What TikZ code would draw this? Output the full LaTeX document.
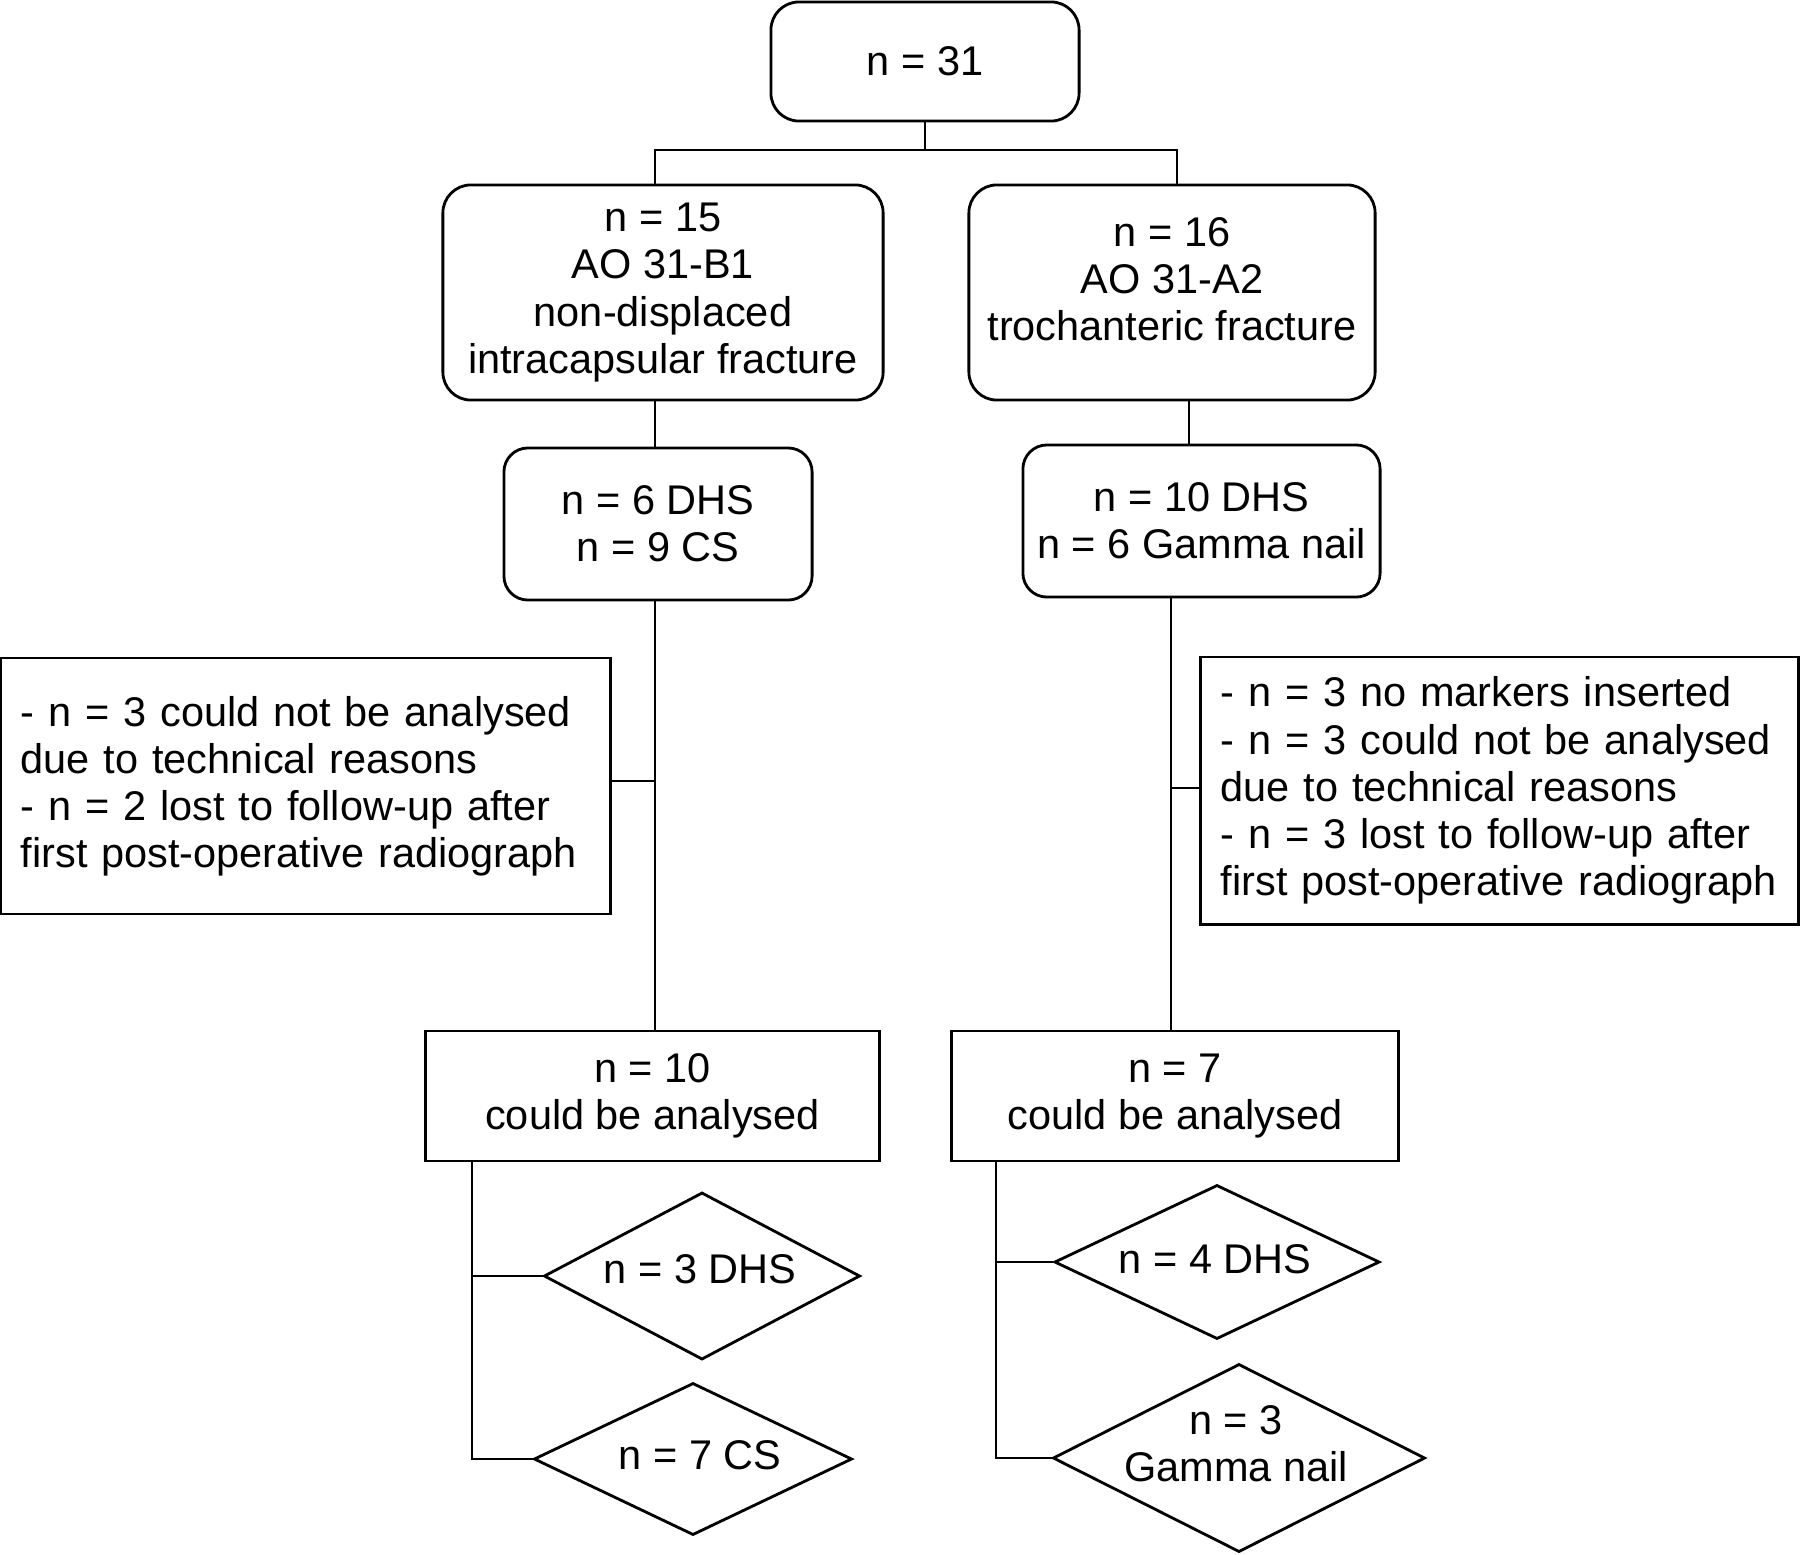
\documentclass[tikz,border=0pt]{standalone}
\usepackage{fontspec}
\setmainfont{Liberation Sans}
\usepackage{tikz}
\usetikzlibrary{shapes.geometric}

\begin{document}
\begin{tikzpicture}[x=0.01cm, y=-0.01cm,
  every node/.style={font=\fontsize{11.8pt}{13.4pt}\selectfont, align=center},
  rbox/.style={draw, line width=0.8pt, rounded corners=0.28cm},
  sbox/.style={draw, line width=0.8pt},
  xbox/.style={draw, line width=0.8pt, align=left, inner xsep=0.2cm},
  dbox/.style={diamond, draw, line width=0.8pt, inner sep=-4pt},
  link/.style={line width=0.6pt}]
\useasboundingbox (0,0) rectangle (1800,1554);

% boxes
\node [rbox, minimum width=3.08cm, minimum height=1.19cm] (all) at (925,61.5) {n = 31};
\node [rbox, minimum width=4.40cm, minimum height=2.15cm] (b1) at (663,292.5)
       {n = 15\\AO 31-B1\\non-displaced\\intracapsular fracture};
\node [rbox, minimum width=4.06cm, minimum height=2.15cm] (a2) at (1172,292.5) {};
\node (a2txt) at (1172,279.5) {n = 16\\AO 31-A2\\trochanteric fracture};
\node [rbox, minimum width=3.08cm, minimum height=1.52cm, rounded corners=0.24cm] (b1op) at (658,524)
       {n = 6 DHS\\n = 9 CS};
\node [rbox, minimum width=3.57cm, minimum height=1.52cm, rounded corners=0.24cm] (a2op) at (1201.5,521)
       {n = 10 DHS\\n = 6 Gamma nail};
\node [xbox, text width=5.69cm, minimum width=6.09cm, minimum height=2.56cm] (b1lost) at (305.5,786)
       {- n = 3 could not be analysed\\due to technical reasons\\- n = 2 lost to follow-up after\\first post-operative radiograph};
\node [xbox, text width=5.57cm, minimum width=5.97cm, minimum height=2.67cm] (a2lost) at (1499.5,790.5)
       {- n = 3 no markers inserted\\- n = 3 could not be analysed\\due to technical reasons\\- n = 3 lost to follow-up after\\first post-operative radiograph};
\node [sbox, minimum width=4.53cm, minimum height=1.30cm] (b1ok) at (652.5,1096)
       {n = 10\\could be analysed};
\node [sbox, minimum width=4.46cm, minimum height=1.30cm] (a2ok) at (1175,1096)
       {n = 7\\could be analysed};

% diamonds
\node [dbox, aspect=1.89, minimum width=3.16cm, minimum height=1.67cm] (b1dhs) at (702,1276) {};
\node (b1dhstxt) at (700,1269) {n = 3 DHS};
\node [dbox, aspect=2.09, minimum width=3.18cm, minimum height=1.52cm] (b1cs) at (693,1459) {};
\node (b1cstxt) at (700,1455) {n = 7 CS};
\node [dbox, aspect=2.11, minimum width=3.25cm, minimum height=1.54cm] (a2dhs) at (1217,1262) {};
\node (a2dhstxt) at (1215,1259) {n = 4 DHS};
\node [dbox, aspect=1.98, minimum width=3.72cm, minimum height=1.88cm] (a2gn) at (1239,1458) {};
\node (a2gntxt) at (1236,1444) {n = 3\\Gamma nail};

% connectors
\coordinate (jl) at (655,150);
\coordinate (jr) at (1177,150);
\draw [link] (all.south) -- (all.south |- jl);
\draw [link] (b1.north -| jl) -- (jl) -- (jr) -- (a2.north -| jr);

\coordinate (ltrunk) at (655,781);
\draw [link] (b1.south -| ltrunk) -- (b1op.north -| ltrunk);
\draw [link] (b1op.south -| ltrunk) -- (b1ok.north -| ltrunk);
\draw [link] (ltrunk) -- (b1lost.east |- ltrunk);

\coordinate (rtop) at (1189,420);
\draw [link] (a2.south -| rtop) -- (a2op.north -| rtop);
\coordinate (rtrunk) at (1171,788);
\draw [link] (a2op.south -| rtrunk) -- (a2ok.north -| rtrunk);
\draw [link] (rtrunk) -- (a2lost.west |- rtrunk);

\coordinate (lbr) at (472,1161);
\draw [link] (b1ok.south -| lbr) |- (b1cs.west);
\draw [link] (lbr |- b1dhs.west) -- (b1dhs.west);
\coordinate (rbr) at (996,1161);
\draw [link] (a2ok.south -| rbr) |- (a2gn.west);
\draw [link] (rbr |- a2dhs.west) -- (a2dhs.west);
\end{tikzpicture}
\end{document}
